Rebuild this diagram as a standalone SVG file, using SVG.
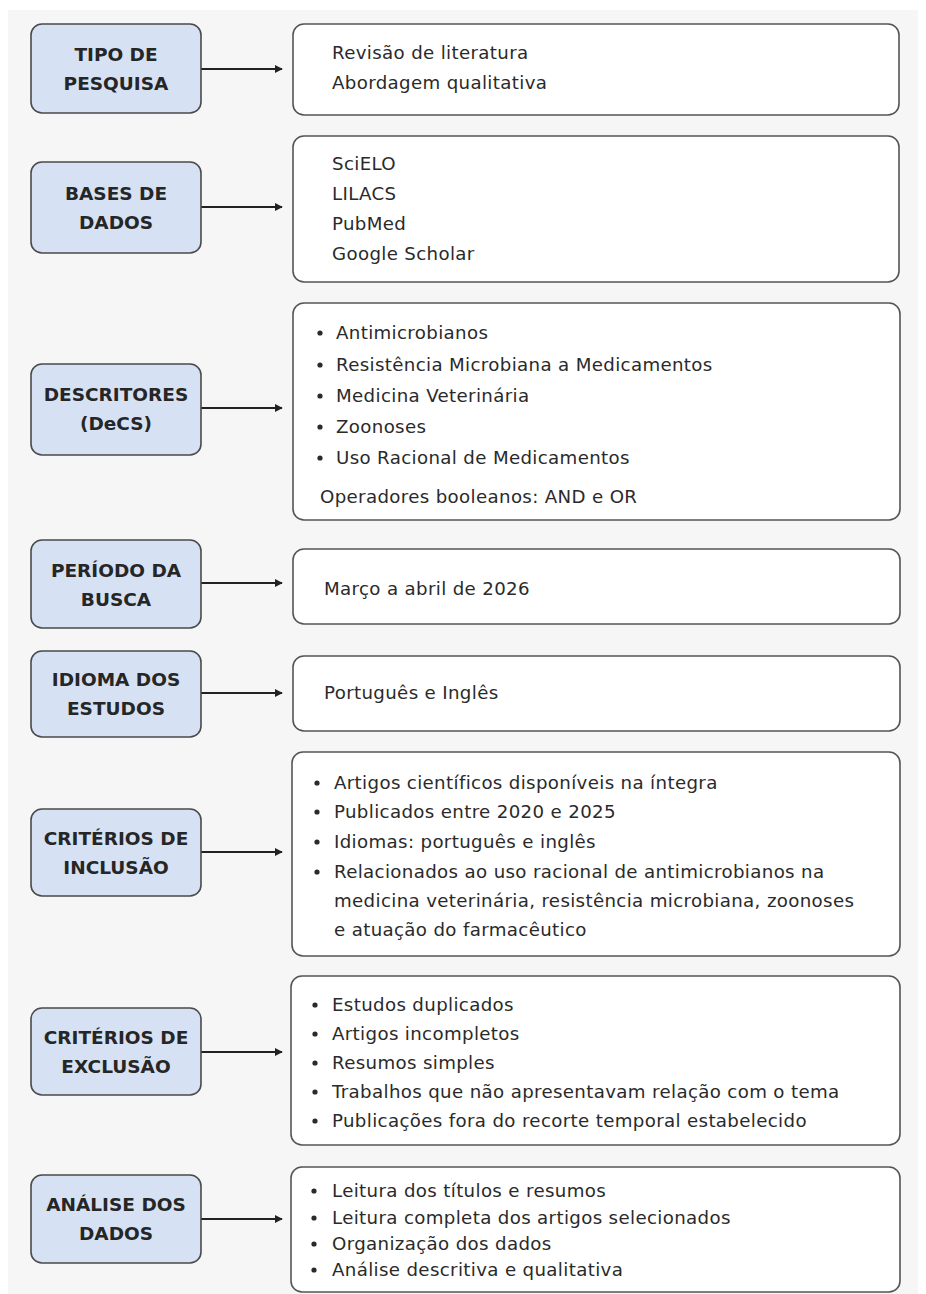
<svg xmlns="http://www.w3.org/2000/svg" width="926" height="1294" viewBox="0 0 926 1294">
<defs>
<marker id="ah" viewBox="0 0 10 10" refX="9" refY="5" markerWidth="4" markerHeight="4" markerUnits="strokeWidth" orient="auto"><path d="M0,0 L10,5 L0,10 z" fill="#222"/></marker>
<style>
.lbl{fill:#d6e2f4;stroke:#4a4a4a;stroke-width:1.6}
.box{fill:#ffffff;stroke:#555;stroke-width:1.6}
.lt{font-family:"DejaVu Sans","Open Sans",sans-serif;font-weight:700;font-size:18.5px;fill:#262626;text-anchor:middle}
.t{font-family:"DejaVu Sans","Open Sans",sans-serif;font-size:18.2px;letter-spacing:0.35px;fill:#2a2a2a}
.b{fill:#2a2a2a}
.c{stroke:#222;stroke-width:2;fill:none;marker-end:url(#ah)}
</style>
</defs>
<rect x="0" y="0" width="926" height="1294" fill="#ffffff"/>
<rect x="8" y="10" width="910" height="1284" fill="#f6f6f6"/>

<g id="connectors">
<line class="c" x1="201" y1="69" x2="282" y2="69"/>
<line class="c" x1="201" y1="207" x2="282" y2="207"/>
<line class="c" x1="201" y1="408" x2="282" y2="408"/>
<line class="c" x1="201" y1="583" x2="282" y2="583"/>
<line class="c" x1="201" y1="693" x2="282" y2="693"/>
<line class="c" x1="201" y1="852" x2="282" y2="852"/>
<line class="c" x1="201" y1="1052" x2="282" y2="1052"/>
<line class="c" x1="201" y1="1219" x2="282" y2="1219"/>
</g>

<g id="n-tipo">
<rect class="lbl" x="31" y="24" width="170" height="89" rx="11"/>
<text class="lt" x="116" y="61">TIPO DE</text>
<text class="lt" x="116" y="90">PESQUISA</text>
</g>
<g id="d-tipo">
<rect class="box" x="293" y="24" width="606" height="91" rx="11"/>
<text class="t" x="332" y="59">Revisão de literatura</text>
<text class="t" x="332" y="89">Abordagem qualitativa</text>
</g>

<g id="n-bases">
<rect class="lbl" x="31" y="162" width="170" height="91" rx="11"/>
<text class="lt" x="116" y="200">BASES DE</text>
<text class="lt" x="116" y="229">DADOS</text>
</g>
<g id="d-bases">
<rect class="box" x="293" y="136" width="606" height="146" rx="11"/>
<text class="t" x="332" y="170">SciELO</text>
<text class="t" x="332" y="200">LILACS</text>
<text class="t" x="332" y="230">PubMed</text>
<text class="t" x="332" y="260">Google Scholar</text>
</g>

<g id="n-descritores">
<rect class="lbl" x="31" y="364" width="170" height="91" rx="11"/>
<text class="lt" x="116" y="401">DESCRITORES</text>
<text class="lt" x="116" y="430">(DeCS)</text>
</g>
<g id="d-descritores">
<rect class="box" x="293" y="303" width="607" height="217" rx="11"/>
<circle class="b" cx="320" cy="333" r="2.6"/><text class="t" x="336" y="339">Antimicrobianos</text>
<circle class="b" cx="320" cy="365" r="2.6"/><text class="t" x="336" y="371">Resistência Microbiana a Medicamentos</text>
<circle class="b" cx="320" cy="396" r="2.6"/><text class="t" x="336" y="402">Medicina Veterinária</text>
<circle class="b" cx="320" cy="427" r="2.6"/><text class="t" x="336" y="433">Zoonoses</text>
<circle class="b" cx="320" cy="458" r="2.6"/><text class="t" x="336" y="464">Uso Racional de Medicamentos</text>
<text class="t" x="320" y="503">Operadores booleanos: AND e OR</text>
</g>

<g id="n-periodo">
<rect class="lbl" x="31" y="540" width="170" height="88" rx="11"/>
<text class="lt" x="116" y="577">PERÍODO DA</text>
<text class="lt" x="116" y="606">BUSCA</text>
</g>
<g id="d-periodo">
<rect class="box" x="293" y="549" width="607" height="75" rx="11"/>
<text class="t" x="324" y="595">Março a abril de 2026</text>
</g>

<g id="n-idioma">
<rect class="lbl" x="31" y="651" width="170" height="86" rx="11"/>
<text class="lt" x="116" y="686">IDIOMA DOS</text>
<text class="lt" x="116" y="715">ESTUDOS</text>
</g>
<g id="d-idioma">
<rect class="box" x="293" y="656" width="607" height="75" rx="11"/>
<text class="t" x="324" y="699">Português e Inglês</text>
</g>

<g id="n-inclusao">
<rect class="lbl" x="31" y="809" width="170" height="87" rx="11"/>
<text class="lt" x="116" y="845">CRITÉRIOS DE</text>
<text class="lt" x="116" y="874">INCLUSÃO</text>
</g>
<g id="d-inclusao">
<rect class="box" x="292" y="752" width="608" height="204" rx="11"/>
<circle class="b" cx="317" cy="783" r="2.6"/><text class="t" x="334" y="789">Artigos científicos disponíveis na íntegra</text>
<circle class="b" cx="317" cy="812" r="2.6"/><text class="t" x="334" y="818">Publicados entre 2020 e 2025</text>
<circle class="b" cx="317" cy="842" r="2.6"/><text class="t" x="334" y="848">Idiomas: português e inglês</text>
<circle class="b" cx="317" cy="872" r="2.6"/><text class="t" x="334" y="878">Relacionados ao uso racional de antimicrobianos na</text>
<text class="t" x="334" y="907">medicina veterinária, resistência microbiana, zoonoses</text>
<text class="t" x="334" y="936">e atuação do farmacêutico</text>
</g>

<g id="n-exclusao">
<rect class="lbl" x="31" y="1008" width="170" height="87" rx="11"/>
<text class="lt" x="116" y="1044">CRITÉRIOS DE</text>
<text class="lt" x="116" y="1073">EXCLUSÃO</text>
</g>
<g id="d-exclusao">
<rect class="box" x="291" y="976" width="609" height="169" rx="11"/>
<circle class="b" cx="315" cy="1005" r="2.6"/><text class="t" x="332" y="1011">Estudos duplicados</text>
<circle class="b" cx="315" cy="1034" r="2.6"/><text class="t" x="332" y="1040">Artigos incompletos</text>
<circle class="b" cx="315" cy="1063" r="2.6"/><text class="t" x="332" y="1069">Resumos simples</text>
<circle class="b" cx="315" cy="1092" r="2.6"/><text class="t" x="332" y="1098">Trabalhos que não apresentavam relação com o tema</text>
<circle class="b" cx="315" cy="1121" r="2.6"/><text class="t" x="332" y="1127">Publicações fora do recorte temporal estabelecido</text>
</g>

<g id="n-analise">
<rect class="lbl" x="31" y="1175" width="170" height="88" rx="11"/>
<text class="lt" x="116" y="1211">ANÁLISE DOS</text>
<text class="lt" x="116" y="1240">DADOS</text>
</g>
<g id="d-analise">
<rect class="box" x="291" y="1167" width="609" height="125" rx="11"/>
<circle class="b" cx="314" cy="1191" r="2.6"/><text class="t" x="332" y="1197">Leitura dos títulos e resumos</text>
<circle class="b" cx="314" cy="1218" r="2.6"/><text class="t" x="332" y="1224">Leitura completa dos artigos selecionados</text>
<circle class="b" cx="314" cy="1244" r="2.6"/><text class="t" x="332" y="1250">Organização dos dados</text>
<circle class="b" cx="314" cy="1270" r="2.6"/><text class="t" x="332" y="1276">Análise descritiva e qualitativa</text>
</g>
</svg>
